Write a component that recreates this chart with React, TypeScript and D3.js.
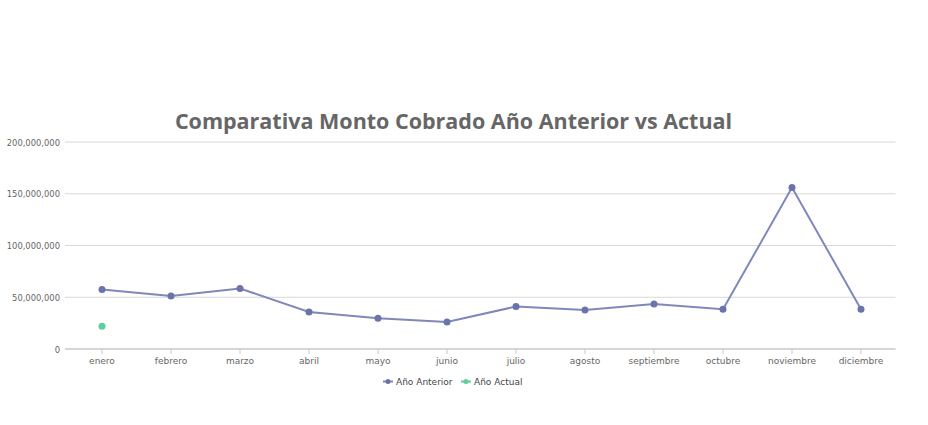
import React from "react";
import * as d3 from "d3";

const months = ["enero","febrero","marzo","abril","mayo","junio","julio","agosto","septiembre","octubre","noviembre","diciembre"];
const anterior = [57400000, 51200000, 58500000, 35700000, 29600000, 26200000, 41000000, 37700000, 43400000, 38400000, 156000000, 38400000];
const actual: (number | null)[] = [22000000, null, null, null, null, null, null, null, null, null, null, null];
const yTicks = [0, 50000000, 100000000, 150000000, 200000000];
const title = "Comparativa Monto Cobrado Año Anterior vs Actual";
const seriesNames = ["Año Anterior", "Año Actual"];

const W = 928, H = 425;
const FONT = "'DejaVu Sans', Verdana, sans-serif";

export default function App() {
  const x = d3.scaleBand<string>().domain(months).range([67.5, 895.5]);
  const y = d3.scaleLinear().domain([0, 200000000]).range([349, 142]);
  const cx = (m: string) => (x(m) as number) + x.bandwidth() / 2;
  const fmt = d3.format(",");
  const line = d3.line<number>().x((_, i) => cx(months[i])).y((v) => y(v));
  const colA = "#7f88b9";
  const dotA = "#6b74aa";
  const colB = "#5ccf9f";

  return (
    <svg width={W} height={H} style={{ position: "absolute", left: 0, top: 0, background: "#fff" }}>
      <text x={453.5} y={129} textAnchor="middle" fontFamily="'Open Sans', sans-serif" fontWeight="bold" fontSize={21.5} fill="#666">{title}</text>
      {yTicks.map((t) => (
        <g key={t}>
          {t !== 0 && <line x1={65} x2={895.5} y1={y(t)} y2={y(t)} stroke="#d8d8d8" strokeWidth={1} />}
          <text x={60} y={y(t) + 3.5} textAnchor="end" fontFamily={FONT} fontSize={8.4} fill="#666">{fmt(t)}</text>
        </g>
      ))}
      <line x1={65} x2={895.5} y1={y(0)} y2={y(0)} stroke="#c8c8c8" strokeWidth={1.5} />
      {months.map((m) => (
        <g key={m}>
          <line x1={cx(m)} x2={cx(m)} y1={y(0)} y2={y(0) + 5} stroke="#c8c8c8" />
          <text x={cx(m)} y={364} textAnchor="middle" fontFamily={FONT} fontSize={9} fill="#666">{m}</text>
        </g>
      ))}
      <path d={line(anterior) || ""} fill="none" stroke={colA} strokeWidth={2} />
      {anterior.map((v, i) => (
        <circle key={i} cx={cx(months[i])} cy={y(v)} r={3.5} fill={dotA} />
      ))}
      {actual.map((v, i) => v == null ? null : (
        <circle key={"b" + i} cx={cx(months[i])} cy={y(v)} r={3.5} fill={colB} />
      ))}
      <g>
        <line x1={383} x2={393} y1={381.5} y2={381.5} stroke={colA} strokeWidth={2} />
        <circle cx={388} cy={381.5} r={2.5} fill={dotA} />
        <text x={396} y={385} fontFamily={FONT} fontSize={9} fill="#444">{seriesNames[0]}</text>
        <line x1={461} x2={471} y1={381.5} y2={381.5} stroke={colB} strokeWidth={2} />
        <circle cx={466} cy={381.5} r={2.5} fill={colB} />
        <text x={474} y={385} fontFamily={FONT} fontSize={9} fill="#444">{seriesNames[1]}</text>
      </g>
    </svg>
  );
}
